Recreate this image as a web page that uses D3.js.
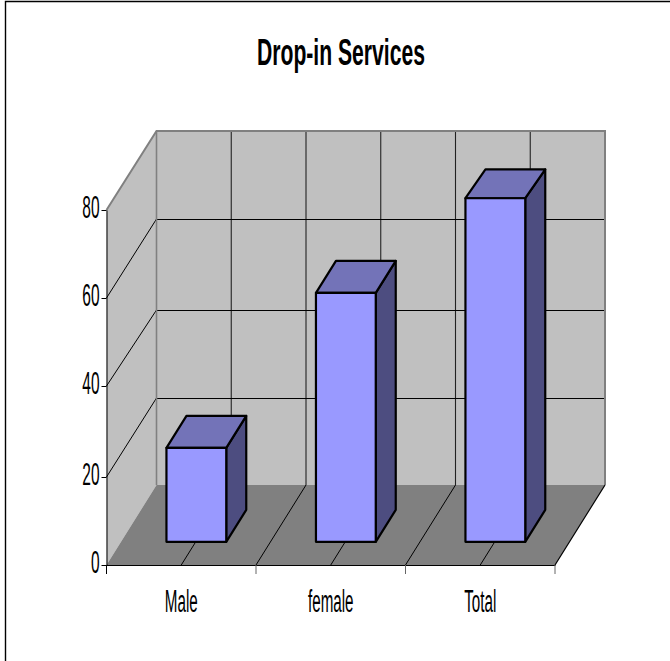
<!DOCTYPE html>
<html>
<head>
<meta charset="utf-8">
<script src="https://cdn.jsdelivr.net/npm/d3@7"></script>
<style>
  html, body { margin: 0; padding: 0; background: #fff; overflow: hidden; }
  text { font-family: "Liberation Sans", Arial, sans-serif; fill: #000; }
</style>
</head>
<body>
<div id="chart"></div>
<script>
const categories = ["Male", "female", "Total"];
const values = [21.3, 55.9, 77.4];
const yTicks = [0, 20, 40, 60, 80];
const chartTitle = "Drop-in Services";

const width = 670, height = 661;

const svg = d3.select("#chart")
    .append("svg")
    .attr("width", width)
    .attr("height", height)
    .style("display", "block");

// front plane of the 3d box
const xScale = d3.scaleBand().domain(categories).range([106.5, 555]);
const yScale = d3.scaleLinear().domain(yTicks).range([565, 477, 386, 298, 210]);
// same values on the back wall
const yBack = d3.scaleLinear().domain(yTicks).range([485, 398, 310, 219, 131]);

// how far the box goes back on screen
const depthX = 50, depthY = -80;
const project = (x, v, t) => [x + depthX * t, yScale(v) + depthY * t];
const poly = pts => pts.map(p => p.join(",")).join(" ");

const x0 = xScale.range()[0], x1 = xScale.range()[1];
const yMax = yTicks[yTicks.length - 1];

// squeeze text horizontally, the original is a stretched bitmap
function squeeze(sel, factor) {
    sel.each(function () {
        d3.select(this)
            .attr("textLength", this.getComputedTextLength() * factor)
            .attr("lengthAdjust", "spacingAndGlyphs");
    });
}

// outer frame
svg.append("path")
    .attr("d", "M5.5,661V1.5H670")
    .attr("fill", "none")
    .attr("stroke", "#000")
    .attr("stroke-width", 1.4);

// walls and floor
svg.append("polygon")
    .attr("points", poly([[x0 + depthX, yBack(0)], [x1 + depthX, yBack(0)], [x1 + depthX, yBack(yMax)], [x0 + depthX, yBack(yMax)]]))
    .attr("fill", "#c0c0c0");
svg.append("polygon")
    .attr("points", poly([[x0, yScale(0)], [x0 + depthX, yBack(0)], [x0 + depthX, yBack(yMax)], [x0, yScale(yMax)]]))
    .attr("fill", "#c0c0c0");
svg.append("polygon")
    .attr("points", poly([[x0, yScale(0)], [x1, yScale(0)], [x1 + depthX, yBack(0)], [x0 + depthX, yBack(0)]]))
    .attr("fill", "#808080");

// gridlines, two per category
const step = xScale.step();
const gridX = d3.range(0, categories.length * 2 + 1).map(i => x0 + i * step / 2);

svg.append("g").selectAll("line")
    .data(gridX.slice(1, -1))
    .enter().append("line")
    .attr("x1", d => d + depthX)
    .attr("y1", yBack(0))
    .attr("x2", d => d + depthX)
    .attr("y2", yBack(yMax))
    .attr("stroke", "#222")
    .attr("stroke-width", 1.1);

svg.append("g").selectAll("line")
    .data(gridX.slice(1, -1))
    .enter().append("line")
    .attr("x1", d => d)
    .attr("y1", yScale(0))
    .attr("x2", d => d + depthX)
    .attr("y2", yBack(0))
    .attr("stroke", "#000")
    .attr("stroke-width", 1);

const inner = yTicks.filter(d => d > 0 && d < yMax);
svg.append("g").selectAll("line")
    .data(inner)
    .enter().append("line")
    .attr("x1", x0 + depthX)
    .attr("y1", d => yBack(d) + 0.5)
    .attr("x2", x1 + depthX)
    .attr("y2", d => yBack(d) + 0.5)
    .attr("stroke", "#000")
    .attr("stroke-width", 1);
svg.append("g").selectAll("line")
    .data(inner)
    .enter().append("line")
    .attr("x1", x0)
    .attr("y1", d => yScale(d))
    .attr("x2", x0 + depthX)
    .attr("y2", d => yBack(d))
    .attr("stroke", "#000")
    .attr("stroke-width", 1);

// gray edges of the walls
svg.append("path")
    .attr("d", "M" + [x0, yScale(yMax)] + "L" + [x0 + depthX, yBack(yMax)] + "L" + [x1 + depthX, yBack(yMax)] + "L" + [x1 + depthX, yBack(0)])
    .attr("fill", "none")
    .attr("stroke", "#808080")
    .attr("stroke-width", 2);
svg.append("line")
    .attr("x1", x0 + depthX).attr("y1", yBack(yMax))
    .attr("x2", x0 + depthX).attr("y2", yBack(0))
    .attr("stroke", "#808080")
    .attr("stroke-width", 1.6);

// right edge of the floor
svg.append("line")
    .attr("x1", x1).attr("y1", yScale(0))
    .attr("x2", x1 + depthX).attr("y2", yBack(0))
    .attr("stroke", "#000")
    .attr("stroke-width", 1.2);

// bars: 40% of the band wide, 0.3 to 0.7 of the depth
const barW = step * 0.4, tFront = 0.29, tBack = 0.69;
// the top face of the tallest bar is a little shallower in the original
const topRise = v => v > 70 ? 0.36 : 0.4;
const topBack = (x, v) => [x + depthX * tBack, yScale(v) + depthY * (tFront + topRise(v))];

const bars = svg.append("g").selectAll("g")
    .data(categories.map((c, i) => ({ cat: c, val: values[i] })))
    .enter().append("g")
    .attr("stroke", "#000")
    .attr("stroke-width", 2.2)
    .attr("stroke-linejoin", "round");

const barLeft = d => xScale(d.cat) + (step - barW) / 2 + 0.6;

bars.append("polygon")
    .attr("fill", "#4d4d80")
    .attr("points", d => {
        const r = barLeft(d) + barW;
        return poly([project(r, 0, tFront), project(r, 0, tBack), topBack(r, d.val), project(r, d.val, tFront)]);
    });
bars.append("polygon")
    .attr("fill", "#7373b8")
    .attr("points", d => {
        const l = barLeft(d), r = l + barW;
        return poly([project(l, d.val, tFront), project(r, d.val, tFront), topBack(r, d.val), topBack(l, d.val)]);
    });
bars.append("polygon")
    .attr("fill", "#9999ff")
    .attr("points", d => {
        const l = barLeft(d), r = l + barW;
        return poly([project(l, 0, tFront), project(r, 0, tFront), project(r, d.val, tFront), project(l, d.val, tFront)]);
    });

// axes
const yAxis = svg.append("g")
    .attr("transform", "translate(" + x0 + ",0)")
    .call(d3.axisLeft(yScale).tickValues(yTicks).tickSize(5).tickPadding(2).tickSizeOuter(0));
yAxis.selectAll("text")
    .style("font-size", "31px")
    .attr("dy", "0.25em")
    .call(squeeze, 0.5);
yAxis.selectAll("line").attr("stroke", "#000");
yAxis.select(".domain").attr("stroke", "#000");

const xAxis = svg.append("g")
    .attr("transform", "translate(0," + yScale(0) + ")")
    .call(d3.axisBottom(xScale).tickSize(0).tickPadding(24.7).tickSizeOuter(0));
xAxis.selectAll("text")
    .style("font-size", "31px")
    .call(squeeze, 0.49);

// ticks on the category boundaries
svg.append("g").selectAll("line")
    .data(d3.range(0, categories.length + 1).map(i => x0 + i * step))
    .enter().append("line")
    .attr("x1", d => d).attr("x2", d => d)
    .attr("y1", yScale(0)).attr("y2", yScale(0) + 9)
    .attr("stroke", (d, i) => i === 0 ? "#000" : "#666");

svg.append("text")
    .attr("x", 341)
    .attr("y", 64.5)
    .attr("text-anchor", "middle")
    .style("font-size", "37px")
    .style("font-weight", "bold")
    .text(chartTitle)
    .attr("textLength", 168)
    .attr("lengthAdjust", "spacingAndGlyphs");
</script>
</body>
</html>
